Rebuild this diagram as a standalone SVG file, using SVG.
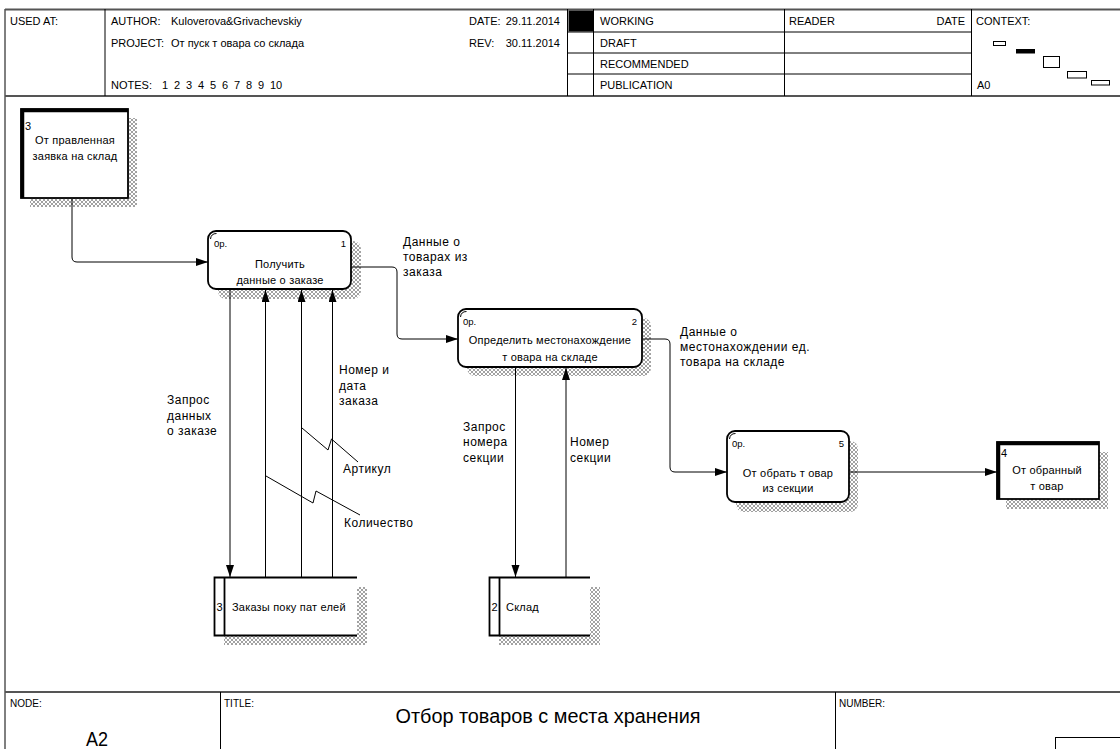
<svg xmlns="http://www.w3.org/2000/svg" width="1120" height="749" viewBox="0 0 1120 749">
<style>
text{font-family:"Liberation Sans",Arial,sans-serif;fill:#000}
.h{font-size:11px}
.n{font-size:11px;letter-spacing:0.2px}
.c{text-anchor:middle}
.s{font-size:9.5px}
.l{font-size:12px;letter-spacing:0.5px}
.f{font-size:10px}
.fr{stroke:#000;stroke-width:1;fill:none}
.fb{stroke:#555;stroke-width:2;fill:none}
.proc{fill:#fff;stroke:#000;stroke-width:1.8}
.ext{fill:#fff;stroke:#000;stroke-width:1.8}
.thick{stroke:#000;stroke-width:3.5;fill:none}
.sh{fill:url(#hatch);stroke:none}
.cn{stroke:#000;stroke-width:1;fill:none}
.ar{marker-end:url(#arr)}
</style>
<defs>
<pattern id="hatch" width="4" height="4" patternUnits="userSpaceOnUse">
<rect width="4" height="4" fill="#fff"/>
<path d="M0,4 L4,0 M0,0 L4,4" stroke="#8a8a8a" stroke-width="0.8"/>
</pattern>
<marker id="arr" markerUnits="userSpaceOnUse" markerWidth="13" markerHeight="9" refX="12" refY="4" orient="auto">
<path d="M0,0 L12,4 L0,8 Z" fill="#000"/>
</marker>
</defs>
<rect width="1120" height="749" fill="#fff"/>

<g id="frame">
<line class="fr" x1="5" y1="9" x2="5" y2="749"/>
<line class="fb" x1="5" y1="9.5" x2="1120" y2="9.5"/>
<line class="fb" x1="5" y1="96" x2="1120" y2="96"/>
<line class="fr" x1="105" y1="9" x2="105" y2="96"/>
<line class="fr" x1="567.5" y1="9" x2="567.5" y2="96"/>
<line class="fr" x1="593.5" y1="9" x2="593.5" y2="96"/>
<line class="fr" x1="784.5" y1="9" x2="784.5" y2="96"/>
<line class="fr" x1="971.5" y1="9" x2="971.5" y2="96"/>
<line class="fr" x1="567.5" y1="32" x2="971.5" y2="32"/>
<line class="fr" x1="567.5" y1="53" x2="971.5" y2="53"/>
<line class="fr" x1="567.5" y1="74" x2="971.5" y2="74"/>
<rect x="568.5" y="10.5" width="24.5" height="21" fill="#000"/>
<text class="h" x="10" y="25">USED AT:</text>
<text class="h" x="111" y="25">AUTHOR:</text>
<text class="h" x="171" y="25">Kuloverova&amp;Grivachevskiy</text>
<text class="h" x="111" y="47">PROJECT:</text>
<text class="h" x="171" y="47">От пуск т овара со склада</text>
<text class="h" x="111" y="89">NOTES:</text>
<text class="h" y="89"><tspan x="162 174 186 198 210 222 234 246 258 270">12345678910</tspan></text>
<text class="h" x="469" y="25">DATE:</text>
<text class="h" x="560" y="25" text-anchor="end">29.11.2014</text>
<text class="h" x="469" y="47">REV:</text>
<text class="h" x="560" y="47" text-anchor="end">30.11.2014</text>
<text class="h" x="600" y="25">WORKING</text>
<text class="h" x="600" y="47">DRAFT</text>
<text class="h" x="600" y="68">RECOMMENDED</text>
<text class="h" x="600" y="89">PUBLICATION</text>
<text class="h" x="789" y="25">READER</text>
<text class="h" x="965" y="25" text-anchor="end">DATE</text>
<text class="h" x="976" y="25">CONTEXT:</text>
<text class="h" x="977" y="89">A0</text>
<rect x="993.5" y="41.5" width="12" height="4" fill="#fff" stroke="#000"/>
<rect x="1016" y="49" width="19" height="4.5" fill="#000"/>
<rect x="1043.5" y="56.5" width="16" height="11" fill="#fff" stroke="#000"/>
<rect x="1067.5" y="71.5" width="19" height="6.5" fill="#fff" stroke="#000"/>
<rect x="1091.5" y="80.5" width="18" height="4.5" fill="#fff" stroke="#000"/>
<line class="fb" x1="5" y1="692" x2="1120" y2="692"/>
<line class="fr" x1="220.5" y1="692" x2="220.5" y2="749"/>
<line class="fr" x1="835.5" y1="692" x2="835.5" y2="749"/>
<rect x="1055.5" y="737.5" width="70" height="20" fill="none" stroke="#000"/>
<text class="f" x="10" y="707">NODE:</text>
<text class="f" x="224" y="707">TITLE:</text>
<text class="f" x="839" y="707">NUMBER:</text>
<text x="548" y="723" text-anchor="middle" style="font-size:20px" textLength="305" lengthAdjust="spacingAndGlyphs">Отбор товаров  с места хранения</text>
<text x="97" y="746" text-anchor="middle" style="font-size:20px" textLength="22" lengthAdjust="spacingAndGlyphs">A2</text>
</g>

<g id="ext3">
<rect class="sh" x="30" y="118" width="107" height="89"/>
<rect class="ext" x="21" y="109" width="107" height="89"/>
<path class="thick" d="M22.5,198 V110.5 H128"/>
<text class="n" x="25" y="130">3</text>
<text class="n c" x="75" y="144">От правленная</text>
<text class="n c" x="75" y="160">заявка на склад</text>
</g>

<g id="proc1">
<rect class="sh" x="218" y="241" width="143" height="58" rx="8"/>
<rect class="proc" x="208" y="231" width="143" height="58" rx="8"/>
<path d="M210.5,239 Q211,233.5 216.5,233.5" stroke="#000" stroke-width="1" fill="none"/>
<text class="s" x="214" y="247">0р.</text>
<text class="s" x="346" y="247" text-anchor="end">1</text>
<text class="n c" x="280" y="268">Получить</text>
<text class="n c" x="280" y="284">данные о заказе</text>
</g>

<g id="proc2">
<rect class="sh" x="467" y="318" width="184" height="58" rx="8"/>
<rect class="proc" x="458" y="309" width="184" height="58" rx="8"/>
<path d="M460.5,317 Q461,311.5 466.5,311.5" stroke="#000" stroke-width="1" fill="none"/>
<text class="s" x="463" y="325">0р.</text>
<text class="s" x="637" y="325" text-anchor="end">2</text>
<text class="n c" x="550" y="344">Определить местонахождение</text>
<text class="n c" x="550" y="361">т овара на складе</text>
</g>

<g id="proc5">
<rect class="sh" x="736" y="441" width="122" height="71" rx="8"/>
<rect class="proc" x="727" y="431" width="122" height="71" rx="8"/>
<path d="M729.5,439 Q730,433.5 735.5,433.5" stroke="#000" stroke-width="1" fill="none"/>
<text class="s" x="732" y="447">0р.</text>
<text class="s" x="844" y="447" text-anchor="end">5</text>
<text class="n c" x="788" y="477">От обрать т овар</text>
<text class="n c" x="788" y="492">из секции</text>
</g>

<g id="ext4">
<rect class="sh" x="1006" y="452" width="102" height="57"/>
<rect class="ext" x="997" y="442" width="102" height="57"/>
<path class="thick" d="M998.5,499 V443.5 H1099"/>
<text class="n" x="1001" y="457">4</text>
<text class="n c" x="1047" y="474">От обранный</text>
<text class="n c" x="1047" y="490">т овар</text>
</g>

<g id="store3">
<rect class="sh" x="224" y="587" width="143" height="58"/>
<rect x="214" y="577" width="143" height="59" fill="#fff"/>
<path d="M357,577.5 H214.5 V635.5 H357 M224.5,577.5 V635.5" stroke="#000" stroke-width="1.8" fill="none"/>
<text class="n" x="216.5" y="611">3</text>
<text class="n" x="232" y="611">Заказы поку пат елей</text>
</g>

<g id="store2">
<rect class="sh" x="499" y="587" width="101" height="58"/>
<rect x="489" y="577" width="101" height="59" fill="#fff"/>
<path d="M590,577.5 H489.5 V635.5 H590 M499.5,577.5 V635.5" stroke="#000" stroke-width="1.8" fill="none"/>
<text class="n" x="491.5" y="611">2</text>
<text class="n" x="506" y="611">Склад</text>
</g>

<g id="connectors">
<path class="cn ar" d="M72,199 V257 Q72,262 77,262 H208"/>
<path class="cn ar" d="M352,267 H392 Q397,267 397,272 V334 Q397,339 402,339 H458"/>
<path class="cn ar" d="M643,339 H665 Q670,339 670,344 V467 Q670,472 675,472 H727"/>
<path class="cn ar" d="M850,472 H997"/>
<path class="cn ar" d="M230,290 V577"/>
<path class="cn ar" d="M265.5,577 V290"/>
<path class="cn ar" d="M301.5,577 V290"/>
<path class="cn ar" d="M332.5,577 V290"/>
<path class="cn ar" d="M515.5,368 V577"/>
<path class="cn ar" d="M566,577 V368"/>
<path class="cn" d="M302,428 L328,450 L331.5,439 L358,462"/>
<path class="cn" d="M266,476 L313,503 L316,491 L360,515"/>
<text class="l" x="403" y="246">Данные о</text>
<text class="l" x="403" y="261">товарах из</text>
<text class="l" x="403" y="276">заказа</text>
<text class="l" x="680" y="336">Данные о</text>
<text class="l" x="680" y="351">местонахождении ед.</text>
<text class="l" x="680" y="366">товара на складе</text>
<text class="l" x="339" y="374">Номер и</text>
<text class="l" x="339" y="389.5">дата</text>
<text class="l" x="339" y="405">заказа</text>
<text class="l" x="167" y="404">Запрос</text>
<text class="l" x="167" y="419.5">данных</text>
<text class="l" x="167" y="435">о заказе</text>
<text class="l" x="343" y="473">Артикул</text>
<text class="l" x="344" y="527">Количество</text>
<text class="l" x="463" y="431">Запрос</text>
<text class="l" x="463" y="446">номера</text>
<text class="l" x="463" y="462">секции</text>
<text class="l" x="570" y="446">Номер</text>
<text class="l" x="570" y="462">секции</text>
</g>
</svg>
